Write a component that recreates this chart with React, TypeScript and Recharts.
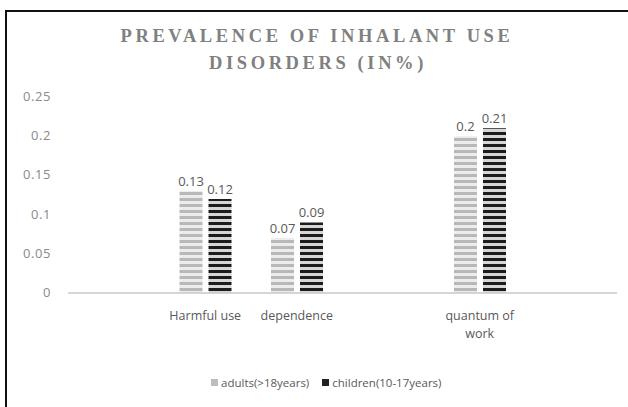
import { Bar, BarChart, LabelList, XAxis, YAxis } from "recharts";

const categories = ["", "Harmful use", "dependence", "", "quantum of work", ""];
const adults = [null, 0.13, 0.07, null, 0.2, null];
const children = [null, 0.12, 0.09, null, 0.21, null];
const yTicks = [0, 0.05, 0.1, 0.15, 0.2, 0.25];
const title = ["PREVALENCE OF INHALANT USE", "DISORDERS (IN%)"];
const seriesNames = ["adults(>18years)", "children(10-17years)"];

const data = categories.map((name, i) => ({ name, adults: adults[i], children: children[i] }));

const FONT = "'Open Sans', 'Liberation Sans', sans-serif";

function YTick({ y, payload }: any) {
  return (
    <text x={51} y={y} dy={4} textAnchor="end" fontFamily={FONT} fontSize={13} letterSpacing={0.6} fill="#8a8a8a">
      {String(payload.value)}
    </text>
  );
}

function XTick({ x, y, payload }: any) {
  const v: string = payload.value;
  if (!v) return null;
  const lines = v === "quantum of work" ? ["quantum of", "work"] : [v];
  return (
    <text x={x} y={y + 19} textAnchor="middle" fontFamily={FONT} fontSize={12.5} fill="#595959">
      {lines.map((l, i) => (
        <tspan key={i} x={x} dy={i === 0 ? 0 : 18}>
          {l}
        </tspan>
      ))}
    </text>
  );
}

function LegendBox() {
  const colors = ["#bdbdbd", "#222"];
  return (
    <div
      style={{
        position: "absolute",
        left: 211,
        top: 375,
        display: "flex",
        gap: 13,
        fontFamily: FONT,
        fontSize: 11.5,
        color: "#595959",
      }}
    >
      {seriesNames.map((n, i) => (
        <span key={n} style={{ display: "flex", alignItems: "center", gap: 3 }}>
          <span style={{ width: 7, height: 7, background: colors[i], display: "inline-block" }} />
          {n}
        </span>
      ))}
    </div>
  );
}

export default function App() {
  return (
    <div style={{ position: "fixed", left: 0, top: 0, width: 628, height: 407, background: "#fff", overflow: "hidden" }}>
      <div
        style={{
          position: "absolute",
          left: 5,
          top: 10,
          width: 640,
          height: 420,
          borderLeft: "2px solid #111",
          borderTop: "2px solid #111",
        }}
      />
      <div style={{ position: "absolute", left: 0, top: 0 }}>
        <BarChart
          width={628}
          height={407}
          data={data}
          margin={{ top: 97, right: 11, left: 8, bottom: 0 }}
          barSize={23}
          barGap={6}
        >
          <defs>
            <pattern id="stripeLight" patternUnits="userSpaceOnUse" width={6} height={6}>
              <rect width={6} height={6} fill="#ececec" />
              <rect width={6} height={3} fill="#b8b8b8" />
            </pattern>
            <pattern id="stripeDark" patternUnits="userSpaceOnUse" width={6} height={6}>
              <rect width={6} height={6} fill="#d6d6d6" />
              <rect width={6} height={3} fill="#1c1c1c" />
            </pattern>
          </defs>
          <text x={317} y={42} textAnchor="middle" fontFamily="'Liberation Serif', serif" fontWeight="bold" fontSize={18.5} letterSpacing={3.6} fill="#808080">
            {title[0]}
          </text>
          <text x={318} y={69} textAnchor="middle" fontFamily="'Liberation Serif', serif" fontWeight="bold" fontSize={18.5} letterSpacing={3.6} fill="#808080">
            {title[1]}
          </text>
          <YAxis
            width={60}
            domain={[0, 0.25]}
            ticks={yTicks}
            axisLine={false}
            tickLine={false}
            tick={<YTick />}
          />
          <XAxis
            dataKey="name"
            height={114}
            axisLine={{ stroke: "#c8c8c8", strokeWidth: 1.5 }}
            tickLine={false}
            tick={<XTick />}
            interval={0}
          />
          <Bar dataKey="adults" fill="url(#stripeLight)" isAnimationActive={false}>
            <LabelList dataKey="adults" position="top" offset={5} fontFamily={FONT} fontSize={13} fill="#595959" />
          </Bar>
          <Bar dataKey="children" fill="url(#stripeDark)" isAnimationActive={false}>
            <LabelList dataKey="children" position="top" offset={5} fontFamily={FONT} fontSize={13} fill="#595959" />
          </Bar>
        </BarChart>
      </div>
      <LegendBox />
    </div>
  );
}
